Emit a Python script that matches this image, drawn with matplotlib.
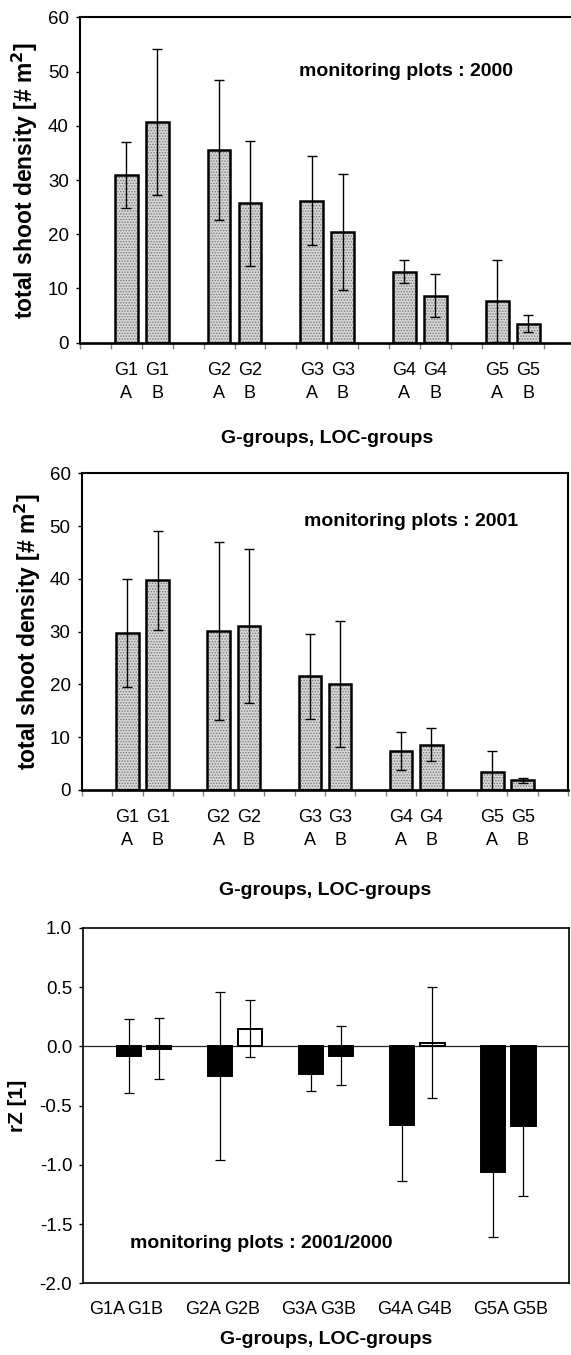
import numpy as np
import matplotlib
matplotlib.use('Agg')
import matplotlib.pyplot as plt

plt.rcParams['font.family'] = ['Liberation Sans', 'DejaVu Sans']
plt.rcParams['axes.unicode_minus'] = False
plt.rcParams['hatch.linewidth'] = 0.7

# data
groups = ['G1', 'G1', 'G2', 'G2', 'G3', 'G3', 'G4', 'G4', 'G5', 'G5']
locs = ['A', 'B', 'A', 'B', 'A', 'B', 'A', 'B', 'A', 'B']

dens_2000 = [31.0, 40.7, 35.6, 25.7, 26.2, 20.4, 13.1, 8.7, 7.7, 3.5]
err_2000 = [6.1, 13.4, 12.9, 11.5, 8.2, 10.7, 2.1, 4.0, 7.6, 1.6]

dens_2001 = [29.8, 39.7, 30.1, 31.1, 21.5, 20.1, 7.3, 8.6, 3.4, 1.8]
err_2001 = [10.2, 9.4, 16.9, 14.6, 8.0, 11.9, 3.6, 3.2, 4.0, 0.5]

rz = [-0.08, -0.02, -0.25, 0.15, -0.23, -0.08, -0.66, 0.03, -1.06, -0.67]
rz_err = [0.31, 0.26, 0.71, 0.24, 0.15, 0.25, 0.48, 0.47, 0.55, 0.59]

idx = np.arange(len(groups))
x = idx + idx // 2 + 1          # one empty slot between the pairs

fig = plt.figure(figsize=(5.71, 13.55), dpi=100)


def density_panel(rect, vals, errs, year, txt_pos):
    ax = fig.add_axes(rect)
    # stippled grey fill, then the thick black outline
    ax.bar(x, vals, width=0.74, color='#d6d6d6', edgecolor='#7a7a7a',
           hatch='......', linewidth=0, zorder=2)
    ax.bar(x, vals, width=0.74, fill=False, edgecolor='black',
           linewidth=1.8, zorder=3)
    ax.errorbar(x, vals, yerr=errs, fmt='none', ecolor='black',
                elinewidth=1.0, capsize=3.3, capthick=1.0, zorder=4)
    ax.set_xlim(-0.5, 15.5)
    ax.set_ylim(0, 60)
    ax.set_yticks(np.arange(0, 61, 10))
    ax.set_xticks(x)
    ax.set_xticklabels([f'{g}\n{l}' for g, l in zip(groups, locs)],
                       linespacing=1.45)
    ax.set_xticks(np.arange(-0.5, 16, 1), minor=True)
    ax.tick_params(axis='x', which='major', length=0, pad=14, labelsize=13)
    ax.tick_params(axis='x', which='minor', length=4, width=1,
                   color='#808080', direction='out')
    ax.tick_params(axis='y', length=3, width=1, pad=5, labelsize=13.5)
    for s in ax.spines.values():
        s.set_linewidth(1.5)
    ax.spines['bottom'].set_linewidth(1.9)
    ax.set_ylabel('total shoot density [# m$^{\\mathbf{2}}$]',
                  fontsize=16.5, fontweight='bold')
    ax.yaxis.set_label_coords(-0.08, 0.5)
    ax.set_xlabel('G-groups, LOC-groups', fontsize=14, fontweight='bold',
                  va='center')
    ax.text(txt_pos[0], txt_pos[1], f'monitoring plots : {year}',
            transform=ax.transAxes, fontsize=14, fontweight='bold',
            va='center', ha='left')
    return ax


ax1 = density_panel([0.1401, 0.7471, 0.8659, 0.2401], dens_2000, err_2000,
                    '2000', (0.442, 0.833))
ax1.xaxis.set_label_coords(0.5, -0.293)

ax2 = density_panel([0.1431, 0.4170, 0.8522, 0.2337], dens_2001, err_2001,
                    '2001', (0.457, 0.847))
ax2.xaxis.set_label_coords(0.5, -0.319)

# relative change panel
ax3 = fig.add_axes([0.1459, 0.0529, 0.8506, 0.2624])
cols = ['white' if v > 0 else 'black' for v in rz]
ax3.bar(x, rz, width=0.8, color=cols, edgecolor='black', linewidth=1.4,
        zorder=2)
ax3.errorbar(x, rz, yerr=rz_err, fmt='none', ecolor='black',
             elinewidth=0.9, capsize=3.3, capthick=0.9, zorder=3)
ax3.axhline(0, color='#222222', linewidth=0.9, zorder=1)
ax3.set_xlim(-0.5, 15.5)
ax3.set_ylim(-2.0, 1.0)
ax3.set_yticks(np.arange(-2.0, 1.01, 0.5))
ax3.yaxis.set_major_formatter(matplotlib.ticker.FormatStrFormatter('%.1f'))
# the category labels sit a little wider apart than the bars
lab_x = 3.17 * (idx // 2) + 1.28 * (idx % 2) + 0.27
ax3.set_xticks(lab_x)
ax3.set_xticklabels([g + l for g, l in zip(groups, locs)])
ax3.tick_params(axis='x', length=0, pad=13, labelsize=13)
ax3.tick_params(axis='y', length=3, width=1, pad=5, labelsize=13.5)
for s in ax3.spines.values():
    s.set_linewidth(1.2)
ax3.set_ylabel('rZ [1]', fontsize=15, fontweight='bold')
ax3.yaxis.set_label_coords(-0.115, 0.5)
ax3.set_xlabel('G-groups, LOC-groups', fontsize=14, fontweight='bold',
               va='center')
ax3.xaxis.set_label_coords(0.5, -0.159)
ax3.text(0.096, 0.113, 'monitoring plots : 2001/2000', transform=ax3.transAxes,
         fontsize=14, fontweight='bold', va='center', ha='left')

fig.savefig('out.png', dpi=100)
